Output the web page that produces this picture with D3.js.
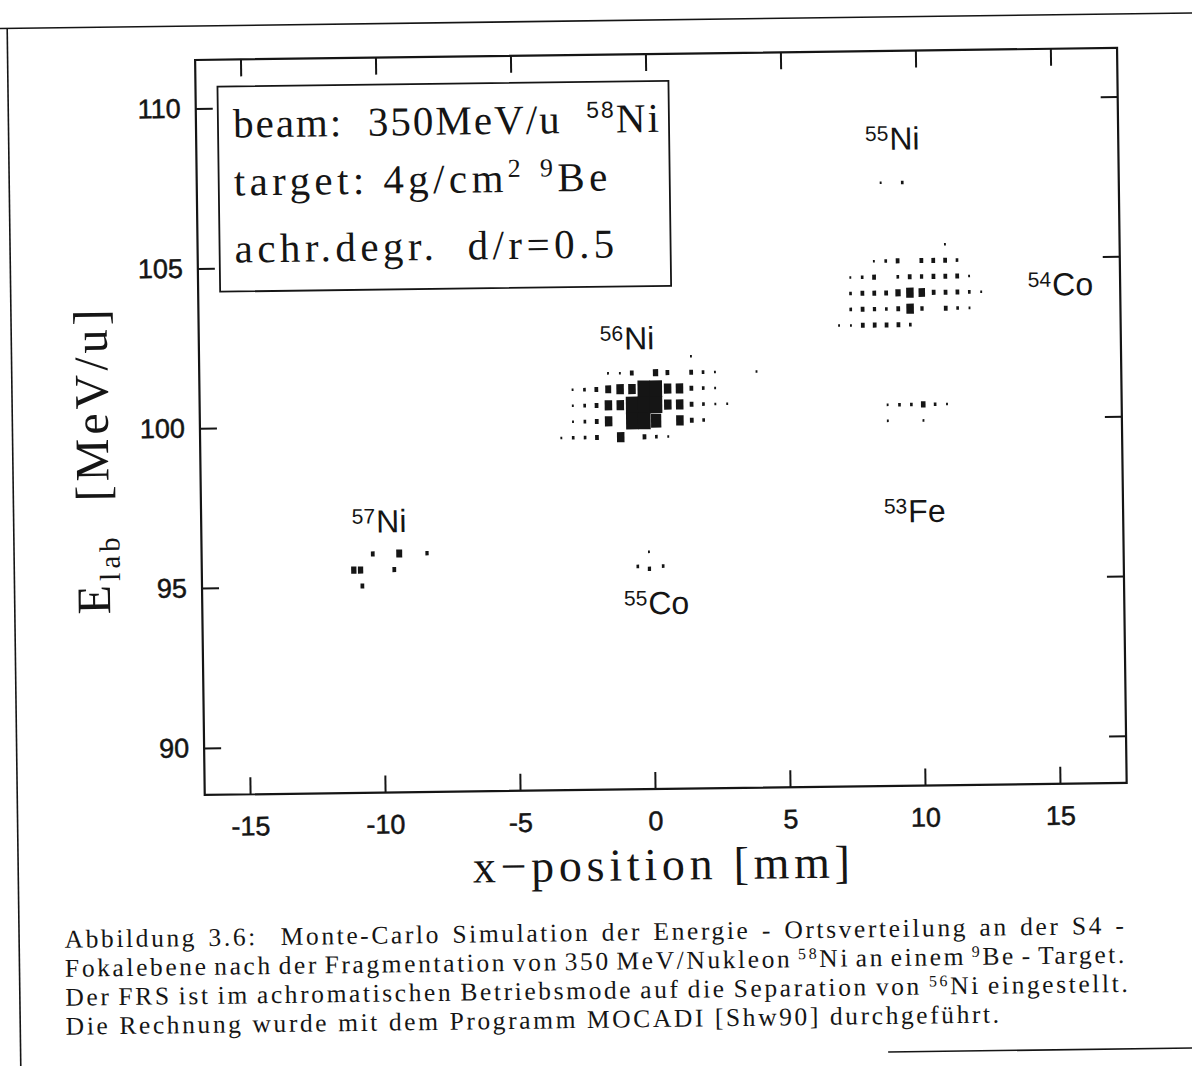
<!DOCTYPE html>
<html><head><meta charset="utf-8">
<script src="https://cdn.jsdelivr.net/npm/d3@7"></script>
<style>html,body{margin:0;padding:0;background:#fff;} svg{display:block}</style>
</head><body>
<svg id="c" width="1192" height="1066"></svg>
<script>
// ---------------- data ----------------
const xTicks = [-15, -10, -5, 0, 5, 10, 15];
const yTicks = [90, 95, 100, 105, 110];
const xDomain = [-16.68, 17.47];
const yDomain = [88.53, 111.52];
const binSize = [0.44, 0.5];           // bin width (mm), bin height (MeV/u)
const maxCount = 40;

// [x (mm), E (MeV/u), counts]
const ni56 = [
  [1.54,102.05,1],
  [-1.54,101.55,1],[-1.1,101.55,1],[-0.66,101.55,4],[0.22,101.55,8],[0.66,101.55,4],[1.54,101.55,4],[1.98,101.55,2],[2.42,101.55,1],[3.96,101.55,1],
  [-2.86,101.05,1],[-2.42,101.05,2],[-1.98,101.05,4],[-1.54,101.05,10],[-1.1,101.05,16],[-0.66,101.05,16],[-0.22,101.05,40],[0.22,101.05,40],[0.66,101.05,16],[1.1,101.05,16],[1.54,101.05,4],[1.98,101.05,2],[2.42,101.05,1],
  [-2.86,100.55,1],[-2.42,100.55,2],[-1.98,100.55,4],[-1.54,100.55,16],[-1.1,100.55,16],[-0.66,100.55,40],[-0.22,100.55,40],[0.22,100.55,40],[0.66,100.55,16],[1.1,100.55,16],[1.54,100.55,4],[1.98,100.55,2],[2.42,100.55,1],[2.86,100.55,1],
  [-2.86,100.05,1],[-2.42,100.05,2],[-1.98,100.05,4],[-1.54,100.05,16],[-0.66,100.05,40],[-0.22,100.05,40],[0.22,100.05,30],[1.1,100.05,16],[1.54,100.05,4],[1.98,100.05,2],
  [-3.3,99.55,1],[-2.86,99.55,2],[-2.42,99.55,2],[-1.98,99.55,4],[-1.1,99.55,16],[-0.22,99.55,4],[0.22,99.55,2],[0.66,99.55,1]
];
const ni55 = [
  [11.0,105.45,1],
  [8.36,104.95,1],[8.8,104.95,2],[9.24,104.95,4],[10.12,104.95,4],[10.56,104.95,4],[11.0,104.95,4],[11.44,104.95,2],
  [7.48,104.45,1],[7.92,104.45,2],[8.36,104.45,4],[9.24,104.45,2],[9.68,104.45,4],[10.12,104.45,3],[10.56,104.45,4],[11.0,104.45,4],[11.44,104.45,4],[11.88,104.45,1],
  [7.48,103.95,2],[7.92,103.95,4],[8.36,103.95,4],[8.8,103.95,4],[9.24,103.95,8],[9.68,103.95,16],[10.12,103.95,12],[10.56,103.95,4],[11.0,103.95,4],[11.44,103.95,4],[11.88,103.95,2],[12.32,103.95,1],
  [7.48,103.45,2],[7.92,103.45,4],[8.36,103.45,3],[8.8,103.45,2],[9.24,103.45,4],[9.68,103.45,16],[10.12,103.45,3],[11.0,103.45,4],[11.44,103.45,2],[11.88,103.45,1],
  [7.04,102.95,1],[7.48,102.95,1],[7.92,102.95,4],[8.36,102.95,4],[8.8,102.95,4],[9.24,102.95,4],[9.68,102.95,2]
];
const topRight = [[8.65,107.4,1],[9.45,107.4,2]];
const fe53 = [
  [8.8,100.45,1],[9.24,100.45,2],[9.68,100.45,2],[10.12,100.45,6],[10.56,100.45,2],[11.0,100.45,1],
  [8.8,99.95,1],[10.12,99.95,1]
];
const ni57 = [
  [-10.34,96.0,4],[-9.36,96.0,10],[-8.33,96.0,3],
  [-11.05,95.5,8],[-10.8,95.5,8],[-9.55,95.5,4],
  [-10.74,95.0,4]
];
const co55 = [[-0.11,95.95,1],[-0.53,95.5,2],[-0.1,95.42,3],[0.41,95.5,2]];

// isotope labels: mass number, element, position of label (left, baseline) in data units
const isoMass = ["55", "54", "56", "53", "57", "55"];
const isoElem = ["Ni", "Co", "Ni", "Fe", "Ni", "Co"];
const isoX    = [8.09, 14.05, -1.83, 8.61, -11.1, -1.06];
const isoY    = [108.43, 103.8, 102.29, 96.77, 96.67, 94.0];

const infoLines = [
  [["beam:  350MeV/u  ","serif",0],["58","sans",1],["Ni","serif",0]],
  [["target: 4g/cm","serif",0],["2","serif",1],[" ","serif",0],["9","serif",1],["Be","serif",0]],
  [["achr.degr.  d/r=0.5","serif",0]]
];
const xTitle = "x\u2212position [mm]";
const yTitleMain = "E", yTitleSub = "lab", yTitleRest = "  [MeV/u]";
const caption = [
  [["Abbildung 3.6:  Monte-Carlo Simulation der Energie - Ortsverteilung an der S4 -",0]],
  [["Fokalebene nach der Fragmentation von 350 MeV/Nukleon ",0],["58",1],["Ni an einem ",0],["9",1],["Be - Target.",0]],
  [["Der FRS ist im achromatischen Betriebsmode auf die Separation von ",0],["56",1],["Ni eingestellt.",0]],
  [["Die Rechnung wurde mit dem Programm MOCADI [Shw90] durchgef\u00fchrt.",0]]
];

// ---------------- drawing ----------------
const W = 1192, H = 1066;
const ink = "#151515";
const SERIF = "'Liberation Serif', 'Times New Roman', serif";
const SANS = "'Liberation Sans', Arial, sans-serif";
const svg = d3.select("#c");
svg.append("rect").attr("width", W).attr("height", H).attr("fill", "#fff");
const root = svg.append("g").attr("transform", "rotate(-0.75,655,430)");

function fitWidth(t, target, ls0) {
  let ls = ls0 || 0;
  t.style("letter-spacing", ls + "px");
  const n = t.text().length;
  for (let i = 0; i < 3; i++) {
    const w = t.node().getBBox().width;
    ls += (target - w) / Math.max(1, n - 1);
    t.style("letter-spacing", ls + "px");
  }
  return ls;
}
function justify(t, target, ls) {
  t.style("letter-spacing", ls + "px");
  const spaces = (t.text().match(/ /g) || []).length;
  let ws = 0;
  for (let i = 0; i < 3; i++) {
    const w = t.node().getBBox().width;
    ws += (target - w) / Math.max(1, spaces);
    t.style("word-spacing", ws + "px");
  }
  const w = t.node().getBBox().width;
  if (Math.abs(w - target) > 3) { t.style("word-spacing", "0px"); fitWidth(t, target, ls); }
}

// page border lines
root.append("line").attr("x1", -30).attr("x2", 1230).attr("y1", 20).attr("y2", 20).attr("stroke", ink).attr("stroke-width", 1.6);
root.append("line").attr("x1", 12.5).attr("x2", 12.5).attr("y1", 20).attr("y2", 1110).attr("stroke", ink).attr("stroke-width", 1.6);
root.append("line").attr("x1", 880).attr("x2", 1230).attr("y1", 1055).attr("y2", 1055).attr("stroke", ink).attr("stroke-width", 1.6);

const x = d3.scaleLinear().domain(xDomain).range([200, 1122]);
const y = d3.scaleLinear().domain(yDomain).range([789, 54]);
const [x0, x1] = x.range(), [y0, y1] = y.range();

function styleAxis(g) {
  g.select(".domain").remove();
  g.selectAll(".tick line").attr("stroke", ink).attr("stroke-width", 2);
  g.attr("font-family", SANS).attr("font-size", 27);
  g.selectAll(".tick text").attr("fill", ink).attr("stroke", ink).attr("stroke-width", 0.5);
}
const tick = 17;
root.append("g").attr("transform", `translate(0,${y0})`)
  .call(d3.axisBottom(x).tickValues(xTicks).tickSize(-tick).tickPadding(22).tickFormat(d => String(d)))
  .call(styleAxis);
root.append("g").attr("transform", `translate(0,${y1})`)
  .call(d3.axisTop(x).tickValues(xTicks).tickSize(-tick).tickFormat(() => ""))
  .call(styleAxis);
root.append("g").attr("transform", `translate(${x0},0)`)
  .call(d3.axisLeft(y).tickValues(yTicks).tickSize(-tick).tickPadding(15).tickFormat(d => String(d)))
  .call(styleAxis);
root.append("g").attr("transform", `translate(${x1},0)`)
  .call(d3.axisRight(y).tickValues(yTicks).tickSize(-tick).tickFormat(() => ""))
  .call(styleAxis);

root.append("rect").attr("x", x0).attr("y", y1).attr("width", x1 - x0).attr("height", y0 - y1)
  .attr("fill", "none").attr("stroke", ink).attr("stroke-width", 2.2);

// bins
const cellW = x(binSize[0]) - x(0), cellH = y(0) - y(binSize[1]);
const frac = d3.scaleSqrt().domain([0, maxCount]).range([0, 1]).clamp(true);
const pad = d => (d[2] >= maxCount ? 0.8 : 0);
const allBins = [].concat(ni56, ni55, topRight, fe53, ni57, co55);
root.append("g").selectAll("rect").data(allBins).join("rect")
  .attr("x", d => x(d[0]) - (frac(d[2]) * cellW + pad(d)) / 2)
  .attr("y", d => y(d[1]) - (frac(d[2]) * cellH + pad(d)) / 2)
  .attr("width", d => frac(d[2]) * cellW + pad(d))
  .attr("height", d => frac(d[2]) * cellH + pad(d))
  .attr("fill", ink);

// isotope labels
isoMass.forEach((m, i) => {
  const t = root.append("text").attr("x", x(isoX[i])).attr("y", y(isoY[i]))
    .attr("font-family", SANS).attr("fill", ink);
  t.append("tspan").attr("font-size", 21).attr("dy", -9).text(m);
  t.append("tspan").attr("font-size", 32).attr("dy", 9).attr("dx", 1).text(isoElem[i]);
});

// info box
root.append("rect").attr("x", 222).attr("y", 81).attr("width", 451).attr("height", 205)
  .attr("fill", "#fff").attr("stroke", ink).attr("stroke-width", 1.8);
const infoBase = [132, 190, 257], infoW = [428, 378, 384];
infoLines.forEach((parts, i) => {
  const t = root.append("text").attr("x", 237).attr("y", infoBase[i])
    .attr("font-family", SERIF).attr("font-size", 41).attr("fill", ink)
    .attr("xml:space", "preserve").style("white-space", "pre");
  let raised = false;
  parts.forEach(([s, f, sup]) => {
    const ts = t.append("tspan").text(s).attr("font-family", f === "sans" ? SANS : SERIF);
    if (sup) { ts.attr("font-size", f === "sans" ? 23 : 26).attr("dy", raised ? 0 : -15); raised = true; }
    else { ts.attr("dy", raised ? 15 : 0); raised = false; }
  });
  fitWidth(t, infoW[i]);
});

// x title
const xt = root.append("text").attr("x", 467).attr("y", 880)
  .attr("font-family", SERIF).attr("font-size", 46).attr("fill", ink).text(xTitle);
fitWidth(xt, 382);

// y title
const yt = root.append("text").attr("transform", "translate(108,607) rotate(-90)")
  .attr("font-family", SERIF).attr("font-size", 48).attr("fill", ink)
  .attr("xml:space", "preserve").style("white-space", "pre");
yt.append("tspan").text(yTitleMain);
yt.append("tspan").attr("font-size", 29).attr("dy", 10).text(yTitleSub);
yt.append("tspan").attr("dy", -10).text(yTitleRest);
fitWidth(yt, 309);

// caption (TeX-like: last line natural, others justified)
const capFont = 25.5, capSup = 16;
const capBase = [940, 969, 998, 1027], capW = [1062, 1062, 1065, 936];
const capTexts = caption.map((parts, i) => {
  const t = root.append("text").attr("x", 58).attr("y", capBase[i])
    .attr("font-family", SERIF).attr("font-size", capFont).attr("fill", ink)
    .attr("xml:space", "preserve").style("white-space", "pre");
  let raised = false;
  parts.forEach(([s, sup]) => {
    const ts = t.append("tspan").text(s);
    if (sup) { ts.attr("font-size", capSup).attr("dy", raised ? 0 : -8); raised = true; }
    else { ts.attr("dy", raised ? 8 : 0); raised = false; }
  });
  return t;
});
const capLS = fitWidth(capTexts[3], capW[3]);
[0, 1, 2].forEach(i => justify(capTexts[i], capW[i], capLS));

// split each laid-out caption line into word pieces at their measured positions
const capG = root.append("g").attr("class", "caption");
capTexts.forEach((t, li) => {
  const node = t.node();
  const ls = t.style("letter-spacing");
  let idx = 0;
  caption[li].forEach(([s, sup]) => {
    const re = /\S+/g; let m;
    while ((m = re.exec(s))) {
      const p = node.getStartPositionOfChar(idx + m.index);
      capG.append("text").attr("x", p.x).attr("y", p.y)
        .attr("font-family", SERIF).attr("font-size", sup ? capSup : capFont).attr("fill", ink)
        .style("letter-spacing", ls).text(m[0]);
    }
    idx += s.length;
  });
  t.remove();
});
</script>
</body></html>
